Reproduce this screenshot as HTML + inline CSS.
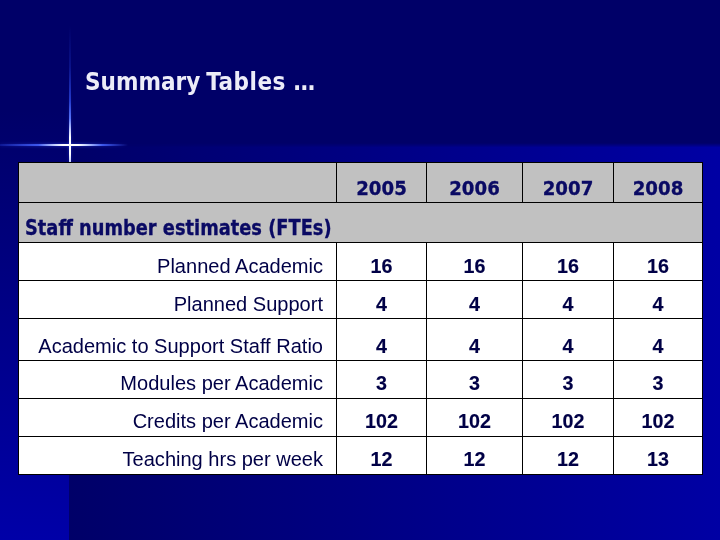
<!DOCTYPE html>
<html lang="en">
<head>
<meta charset="utf-8">
<title>Summary Tables</title>
<style>
html,body{margin:0;padding:0;}
body{width:720px;height:540px;overflow:hidden;position:relative;background:#000066;font-family:"Liberation Sans",sans-serif;}
#bg-top{position:absolute;left:0;top:0;width:720px;height:145px;background:#000068;}
#bg-main{position:absolute;left:0;top:143px;width:720px;height:397px;background:linear-gradient(90deg,#000068 69px,#0000a4 720px);-webkit-mask-image:linear-gradient(180deg,transparent 0,#000 4.5px);mask-image:linear-gradient(180deg,transparent 0,#000 4.5px);}
#bg-left{position:absolute;left:0;top:0;width:69px;height:540px;background:linear-gradient(180deg,#000068 0,#000068 110px,#0000a8 540px);}
#vline{position:absolute;left:69px;top:26px;width:2px;height:136px;background:linear-gradient(180deg,rgba(40,70,230,0) 0%,rgba(40,70,230,.25) 30%,rgba(50,80,240,.7) 55%,rgba(90,120,255,.95) 68%,rgba(190,200,255,1) 76%,#ffffff 82%,#ffffff 94%,rgba(190,200,255,1) 100%);}
#vglow{position:absolute;left:68px;top:90px;width:4px;height:72px;background:linear-gradient(180deg,rgba(40,70,230,0) 0%,rgba(50,80,240,.2) 60%,rgba(60,90,255,.3) 78%,rgba(60,90,255,.1) 100%);filter:blur(.8px);}
#hline{position:absolute;left:0;top:144px;width:128px;height:2px;background:linear-gradient(90deg,rgba(40,70,230,.25) 0%,rgba(70,100,255,.85) 30%,rgba(200,212,255,1) 43%,#ffffff 49%,#ffffff 61%,rgba(200,212,255,1) 67%,rgba(70,100,255,.85) 80%,rgba(40,70,230,0) 100%);}
#hglow{position:absolute;left:0;top:143px;width:128px;height:4px;background:linear-gradient(90deg,rgba(40,70,230,.1) 0%,rgba(60,90,255,.3) 45%,rgba(60,90,255,.3) 65%,rgba(40,70,230,0) 100%);filter:blur(.8px);}
h1{position:absolute;left:85px;top:68px;margin:0;font:bold 24px/28px "DejaVu Sans Condensed","DejaVu Sans","Liberation Sans",sans-serif;color:#ececf8;white-space:nowrap;}
h1 span{letter-spacing:.5px;margin-left:-1.4px;}
table{position:absolute;left:18px;top:162px;width:685px;border-collapse:collapse;table-layout:fixed;}
td{border:1px solid #000;padding:0;background:#fff;color:#000050;font-size:20px;line-height:23px;vertical-align:bottom;padding-bottom:2px;overflow:hidden;white-space:nowrap;}
tr.h td{background:#c1c1c1;}
td.y{font:bold 20.2px/23px "DejaVu Sans Condensed","DejaVu Sans","Liberation Sans",sans-serif;text-align:center;color:#0a0a64;vertical-align:bottom;padding-bottom:2px;-webkit-text-stroke:0.3px #0a0a64;}
td.s{font:bold 20.6px/23px "DejaVu Sans Condensed","DejaVu Sans","Liberation Sans",sans-serif;text-align:left;color:#0a0a64;padding-left:6px;vertical-align:bottom;padding-bottom:2px;-webkit-text-stroke:0.3px #0a0a64;}
td.s span{display:inline-block;transform:scaleX(.962);transform-origin:0 50%;}
td.l{text-align:right;padding-right:13px;font-size:20.05px;color:#000046;}
tr.u td{padding-bottom:3px;}
td.n{text-align:center;font-weight:bold;font-size:19.7px;color:#000046;-webkit-text-stroke:0.15px #000046;}
</style>
</head>
<body>
<div id="bg-top"></div>
<div id="bg-main"></div>
<div id="bg-left"></div>
<div id="vglow"></div>
<div id="hglow"></div>
<div id="vline"></div>
<div id="hline"></div>
<h1>Summary <span>Tables</span> …</h1>
<table>
<colgroup><col style="width:318px"><col style="width:90px"><col style="width:96px"><col style="width:91px"><col style="width:89px"></colgroup>
<tr class="h" style="height:40px"><td></td><td class="y">2005</td><td class="y">2006</td><td class="y">2007</td><td class="y">2008</td></tr>
<tr class="h" style="height:40px"><td class="s" colspan="5"><span>Staff number estimates (FTEs)</span></td></tr>
<tr style="height:38px"><td class="l">Planned Academic</td><td class="n">16</td><td class="n">16</td><td class="n">16</td><td class="n">16</td></tr>
<tr style="height:38px"><td class="l">Planned Support</td><td class="n">4</td><td class="n">4</td><td class="n">4</td><td class="n">4</td></tr>
<tr style="height:42px"><td class="l">Academic to Support Staff Ratio</td><td class="n">4</td><td class="n">4</td><td class="n">4</td><td class="n">4</td></tr>
<tr class="u" style="height:38px"><td class="l">Modules per Academic</td><td class="n">3</td><td class="n">3</td><td class="n">3</td><td class="n">3</td></tr>
<tr class="u" style="height:38px"><td class="l">Credits per Academic</td><td class="n">102</td><td class="n">102</td><td class="n">102</td><td class="n">102</td></tr>
<tr class="u" style="height:38px"><td class="l">Teaching hrs per week</td><td class="n">12</td><td class="n">12</td><td class="n">12</td><td class="n">13</td></tr>
</table>
</body>
</html>
